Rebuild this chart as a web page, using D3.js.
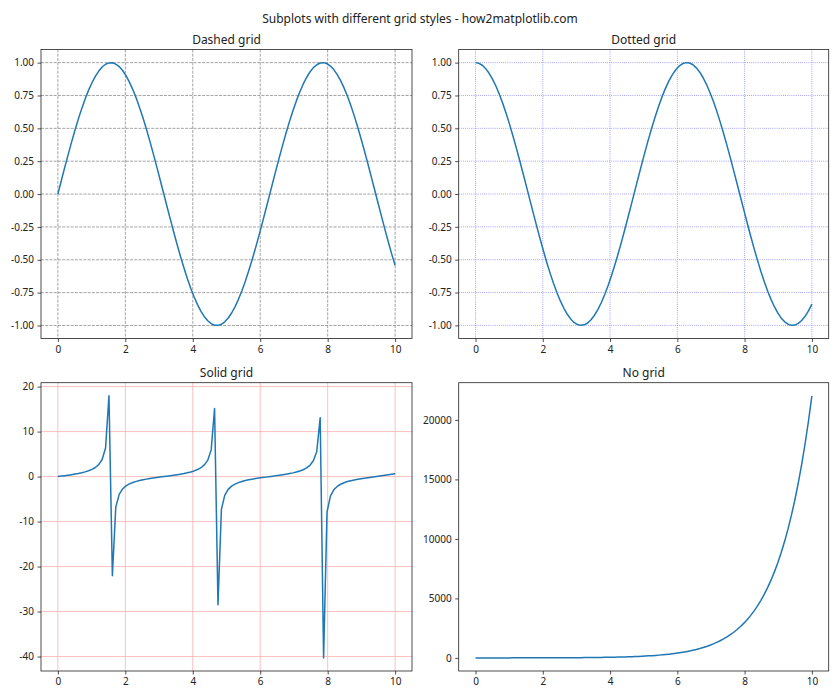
<!DOCTYPE html>
<html>
<head>
<meta charset="utf-8">
<script src="https://cdn.jsdelivr.net/npm/d3@7"></script>
<style>
  body { margin: 0; background: #fff; }
  text { font-family: "Noto Sans", "DejaVu Sans", sans-serif; fill: #222; }
</style>
</head>
<body>
<svg id="chart" width="840" height="700"></svg>
<script>
const suptitle = "Subplots with different grid styles - how2matplotlib.com";
const titles = ["Dashed grid", "Dotted grid", "Solid grid", "No grid"];

const X = [0.0000,0.1010,0.2020,0.3030,0.4040,0.5051,0.6061,0.7071,0.8081,0.9091,
1.0101,1.1111,1.2121,1.3131,1.4141,1.5152,1.6162,1.7172,1.8182,1.9192,
2.0202,2.1212,2.2222,2.3232,2.4242,2.5253,2.6263,2.7273,2.8283,2.9293,
3.0303,3.1313,3.2323,3.3333,3.4343,3.5354,3.6364,3.7374,3.8384,3.9394,
4.0404,4.1414,4.2424,4.3434,4.4444,4.5455,4.6465,4.7475,4.8485,4.9495,
5.0505,5.1515,5.2525,5.3535,5.4545,5.5556,5.6566,5.7576,5.8586,5.9596,
6.0606,6.1616,6.2626,6.3636,6.4646,6.5657,6.6667,6.7677,6.8687,6.9697,
7.0707,7.1717,7.2727,7.3737,7.4747,7.5758,7.6768,7.7778,7.8788,7.9798,
8.0808,8.1818,8.2828,8.3838,8.4848,8.5859,8.6869,8.7879,8.8889,8.9899,
9.0909,9.1919,9.2929,9.3939,9.4949,9.5960,9.6970,9.7980,9.8990,10.0000];

const SIN = [0.000,0.101,0.201,0.298,0.393,0.484,0.570,0.650,0.723,0.789,
0.847,0.896,0.936,0.967,0.988,0.998,0.999,0.989,0.970,0.940,
0.901,0.852,0.795,0.730,0.657,0.578,0.493,0.403,0.308,0.211,
0.111,0.010,-0.091,-0.191,-0.289,-0.384,-0.475,-0.561,-0.642,-0.716,
-0.783,-0.841,-0.892,-0.933,-0.964,-0.986,-0.998,-0.999,-0.991,-0.972,
-0.943,-0.905,-0.858,-0.801,-0.737,-0.665,-0.586,-0.502,-0.412,-0.318,
-0.221,-0.121,-0.021,0.080,0.180,0.279,0.374,0.466,0.553,0.634,
0.709,0.776,0.836,0.887,0.929,0.962,0.984,0.997,1.000,0.992,
0.974,0.947,0.909,0.863,0.808,0.744,0.673,0.595,0.511,0.421,
0.328,0.231,0.131,0.031,-0.070,-0.170,-0.269,-0.365,-0.457,-0.544];

const COS = [1.000,0.995,0.980,0.954,0.919,0.875,0.822,0.760,0.691,0.614,
0.532,0.444,0.351,0.255,0.156,0.056,-0.045,-0.146,-0.245,-0.341,
-0.434,-0.523,-0.606,-0.683,-0.754,-0.816,-0.870,-0.915,-0.951,-0.978,
-0.994,-1.000,-0.996,-0.982,-0.957,-0.923,-0.880,-0.828,-0.767,-0.698,
-0.623,-0.540,-0.453,-0.361,-0.265,-0.166,-0.066,0.035,0.136,0.235,
0.332,0.425,0.514,0.598,0.676,0.747,0.810,0.865,0.911,0.948,
0.975,0.993,1.000,0.997,0.984,0.960,0.927,0.885,0.833,0.773,
0.706,0.631,0.549,0.462,0.370,0.275,0.176,0.076,-0.025,-0.125,
-0.225,-0.322,-0.416,-0.505,-0.590,-0.668,-0.740,-0.804,-0.860,-0.907,
-0.945,-0.973,-0.991,-1.000,-0.998,-0.985,-0.963,-0.931,-0.890,-0.839];

const TAN = [0.000,0.101,0.205,0.313,0.428,0.553,0.693,0.854,1.046,1.284,
1.593,2.020,2.667,3.795,6.331,17.952,-22.029,-6.783,-3.960,-2.753,
-2.073,-1.630,-1.312,-1.068,-0.872,-0.708,-0.566,-0.440,-0.324,-0.216,
-0.112,-0.010,0.091,0.194,0.301,0.415,0.540,0.678,0.837,1.025,
1.257,1.557,1.969,2.586,3.642,5.934,15.146,-28.494,-7.303,-4.138,
-2.844,-2.129,-1.668,-1.340,-1.090,-0.891,-0.724,-0.580,-0.452,-0.335,
-0.226,-0.122,-0.021,0.081,0.183,0.290,0.403,0.526,0.663,0.819,
1.004,1.231,1.522,1.920,2.509,3.501,5.584,13.098,-40.302,-7.906,
-4.333,-2.940,-2.187,-1.707,-1.369,-1.113,-0.909,-0.740,-0.594,-0.465,
-0.347,-0.237,-0.133,-0.031,0.070,0.173,0.279,0.392,0.513,0.648];

const EXP = [1.000,1.106,1.224,1.354,1.498,1.657,1.833,2.028,2.244,2.482,
2.746,3.038,3.361,3.718,4.113,4.550,5.034,5.569,6.161,6.815,
7.540,8.341,9.228,10.209,11.294,12.494,13.822,15.291,16.916,18.714,
20.704,22.904,25.338,28.032,31.011,34.307,37.954,41.988,46.450,51.387,
56.849,62.892,69.576,76.971,85.153,94.203,104.216,115.293,127.547,141.104,
156.10,172.69,191.05,211.35,233.82,258.67,286.16,316.58,350.22,387.45,
428.64,474.19,524.59,580.35,642.04,710.28,785.77,869.29,961.68,1063.90,
1176.98,1302.08,1440.48,1593.58,1762.96,1950.34,2157.63,2386.97,2640.67,2921.34,
3231.84,3575.35,3955.37,4375.78,4840.87,5355.37,5924.60,6554.31,7250.96,8021.64,
8874.25,9817.47,10860.95,12015.34,13292.42,14705.63,16268.21,17997.34,19910.23,22026.47];

const xTicks = [0, 2, 4, 6, 8, 10];
const trigTicks = [-1.00, -0.75, -0.50, -0.25, 0.00, 0.25, 0.50, 0.75, 1.00];
const tanTicks = [-40, -30, -20, -10, 0, 10, 20];
const expTicks = [0, 5000, 10000, 15000, 20000];

const seriesList = [SIN, COS, TAN, EXP];
const yTickList = [trigTicks, trigTicks, tanTicks, expTicks];
const yFormats = [d3.format(".2f"), d3.format(".2f"), d3.format("d"), d3.format("d")];

const gridStyles = [
  { color: "#8c8c8c", width: 0.8, dash: "2.96,1.28" },
  { color: "#7070ff", width: 0.8, dash: "0.8,1.32" },
  { color: "#ffb0b0", width: 0.8, dash: null },
  null
];

const svg = d3.select("#chart");
svg.append("text").attr("x", 420).attr("y", 23).attr("text-anchor", "middle")
  .style("font-size", "12px").text(suptitle);

const boxes = [
  { l: 41, r: 412, t: 49.5, b: 338.5 },
  { l: 458.7, r: 828.7, t: 49.5, b: 338.5 },
  { l: 41, r: 412, t: 382.7, b: 671 },
  { l: 458.7, r: 828.7, t: 382.7, b: 671 }
];

const fixMinus = s => s.replace(/\u2212/g, "-");

seriesList.forEach((Y, p) => {
  const box = boxes[p];
  const xmin = d3.min(X), xmax = d3.max(X);
  const ymin = d3.min(Y), ymax = d3.max(Y);
  const xm = (xmax - xmin) * 0.05, ym = (ymax - ymin) * 0.05;
  const xs = d3.scaleLinear().domain([xmin - xm, xmax + xm]).range([box.l, box.r]);
  const ys = d3.scaleLinear().domain([ymin - ym, ymax + ym]).range([box.b, box.t]);
  const g = svg.append("g");

  // grid
  const gs = gridStyles[p];
  if (gs) {
    const gg = g.append("g");
    xTicks.forEach(v => {
      gg.append("line").attr("x1", xs(v)).attr("x2", xs(v)).attr("y1", box.t).attr("y2", box.b)
        .attr("stroke", gs.color).attr("stroke-width", gs.width)
        .attr("stroke-dasharray", gs.dash);
    });
    yTickList[p].forEach(v => {
      gg.append("line").attr("x1", box.l).attr("x2", box.r).attr("y1", ys(v)).attr("y2", ys(v))
        .attr("stroke", gs.color).attr("stroke-width", gs.width)
        .attr("stroke-dasharray", gs.dash);
    });
  }

  // line
  const line = d3.line().x((d, i) => xs(X[i])).y(d => ys(d));
  g.append("path").datum(Y).attr("d", line).attr("fill", "none")
    .attr("stroke", "#1f77b4").attr("stroke-width", 1.5).attr("stroke-linejoin", "round");

  // axes
  const xAxis = d3.axisBottom(xs).tickValues(xTicks).tickSize(3.5).tickPadding(3.5)
    .tickFormat(d => fixMinus(d3.format("d")(d)));
  const yAxis = d3.axisLeft(ys).tickValues(yTickList[p]).tickSize(3.5).tickPadding(3.5)
    .tickFormat(d => fixMinus(yFormats[p](d)));
  const xa = g.append("g").attr("transform", `translate(0,${box.b})`).call(xAxis);
  const ya = g.append("g").attr("transform", `translate(${box.l},0)`).call(yAxis);
  [xa, ya].forEach(a => {
    a.select(".domain").remove();
    a.selectAll(".tick line").attr("stroke", "#222").attr("stroke-width", 0.8);
    a.selectAll(".tick text").style("font-size", "10px").style("font-family", "'Noto Sans', sans-serif").attr("fill", "#222");
  });

  // frame
  g.append("rect").attr("x", box.l).attr("y", box.t).attr("width", box.r - box.l)
    .attr("height", box.b - box.t).attr("fill", "none").attr("stroke", "#222").attr("stroke-width", 0.8);

  // title
  g.append("text").attr("x", (box.l + box.r) / 2).attr("y", box.t - 6)
    .attr("text-anchor", "middle").style("font-size", "12px").text(titles[p]);
});
</script>
</body>
</html>
